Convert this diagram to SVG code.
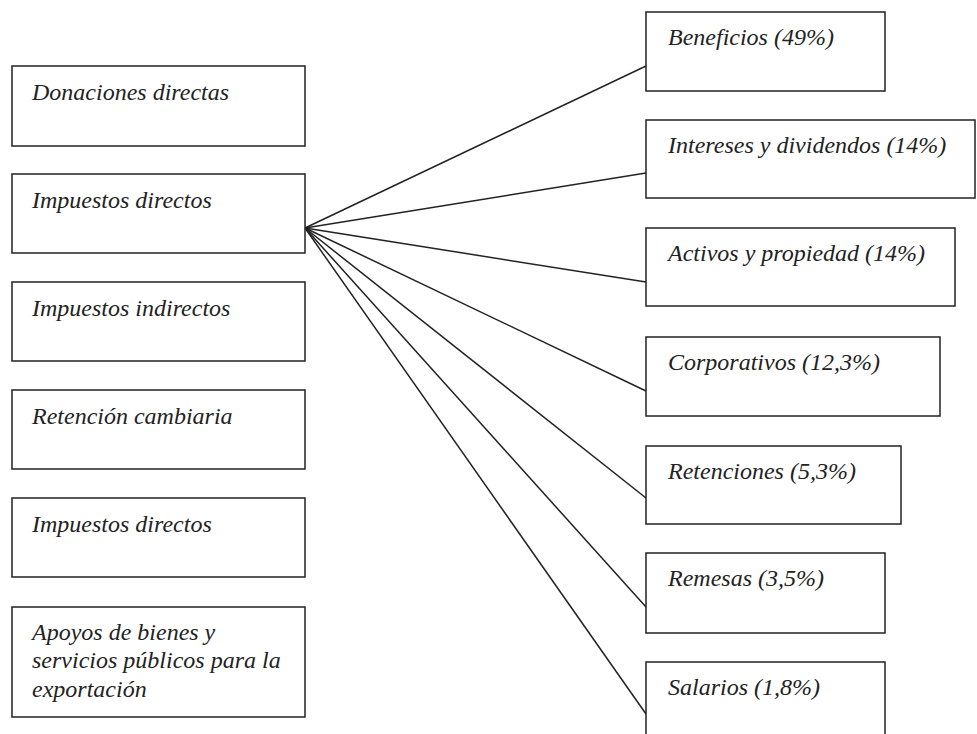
<svg xmlns="http://www.w3.org/2000/svg" width="977" height="734" viewBox="0 0 977 734">
<style>
.box{fill:#fff;stroke:#222;stroke-width:1.5}
.t{font-family:"Liberation Serif","Times New Roman",serif;font-style:italic;font-size:24px;fill:#222}
.c{stroke:#222;stroke-width:1.5;fill:none}
</style>
<rect width="977" height="734" fill="#fff"/>
<g id="connectors">
<line class="c" x1="305" y1="228" x2="646" y2="66"/>
<line class="c" x1="305" y1="228" x2="646" y2="173"/>
<line class="c" x1="305" y1="228" x2="646" y2="282"/>
<line class="c" x1="305" y1="228" x2="646" y2="391"/>
<line class="c" x1="305" y1="228" x2="646" y2="498"/>
<line class="c" x1="305" y1="228" x2="646" y2="607"/>
<line class="c" x1="305" y1="228" x2="646" y2="714"/>
</g>
<g id="l1"><rect class="box" x="12" y="66" width="293" height="80"/><text class="t" x="32" y="100">Donaciones directas</text></g>
<g id="l2"><rect class="box" x="12" y="174" width="293" height="79"/><text class="t" x="32" y="208">Impuestos directos</text></g>
<g id="l3"><rect class="box" x="12" y="282" width="293" height="79"/><text class="t" x="32" y="316">Impuestos indirectos</text></g>
<g id="l4"><rect class="box" x="12" y="390" width="293" height="79"/><text class="t" x="32" y="424">Retención cambiaria</text></g>
<g id="l5"><rect class="box" x="12" y="498" width="293" height="79"/><text class="t" x="32" y="532">Impuestos directos</text></g>
<g id="l6"><rect class="box" x="12" y="607" width="293" height="110"/><text class="t" x="32" y="640">Apoyos de bienes y</text><text class="t" x="32" y="668">servicios públicos para la</text><text class="t" x="32" y="697">exportación</text></g>
<g id="r1"><rect class="box" x="646" y="12" width="239" height="79"/><text class="t" x="668" y="45">Beneficios (49%)</text></g>
<g id="r2"><rect class="box" x="646" y="120" width="329" height="78"/><text class="t" x="668" y="153">Intereses y dividendos (14%)</text></g>
<g id="r3"><rect class="box" x="646" y="228" width="309" height="78"/><text class="t" x="668" y="261">Activos y propiedad (14%)</text></g>
<g id="r4"><rect class="box" x="646" y="337" width="294" height="79"/><text class="t" x="668" y="370">Corporativos (12,3%)</text></g>
<g id="r5"><rect class="box" x="646" y="446" width="255" height="78"/><text class="t" x="668" y="479">Retenciones (5,3%)</text></g>
<g id="r6"><rect class="box" x="646" y="553" width="239" height="80"/><text class="t" x="668" y="586">Remesas (3,5%)</text></g>
<g id="r7"><rect class="box" x="646" y="662" width="239" height="90"/><text class="t" x="668" y="695">Salarios (1,8%)</text></g>
</svg>
